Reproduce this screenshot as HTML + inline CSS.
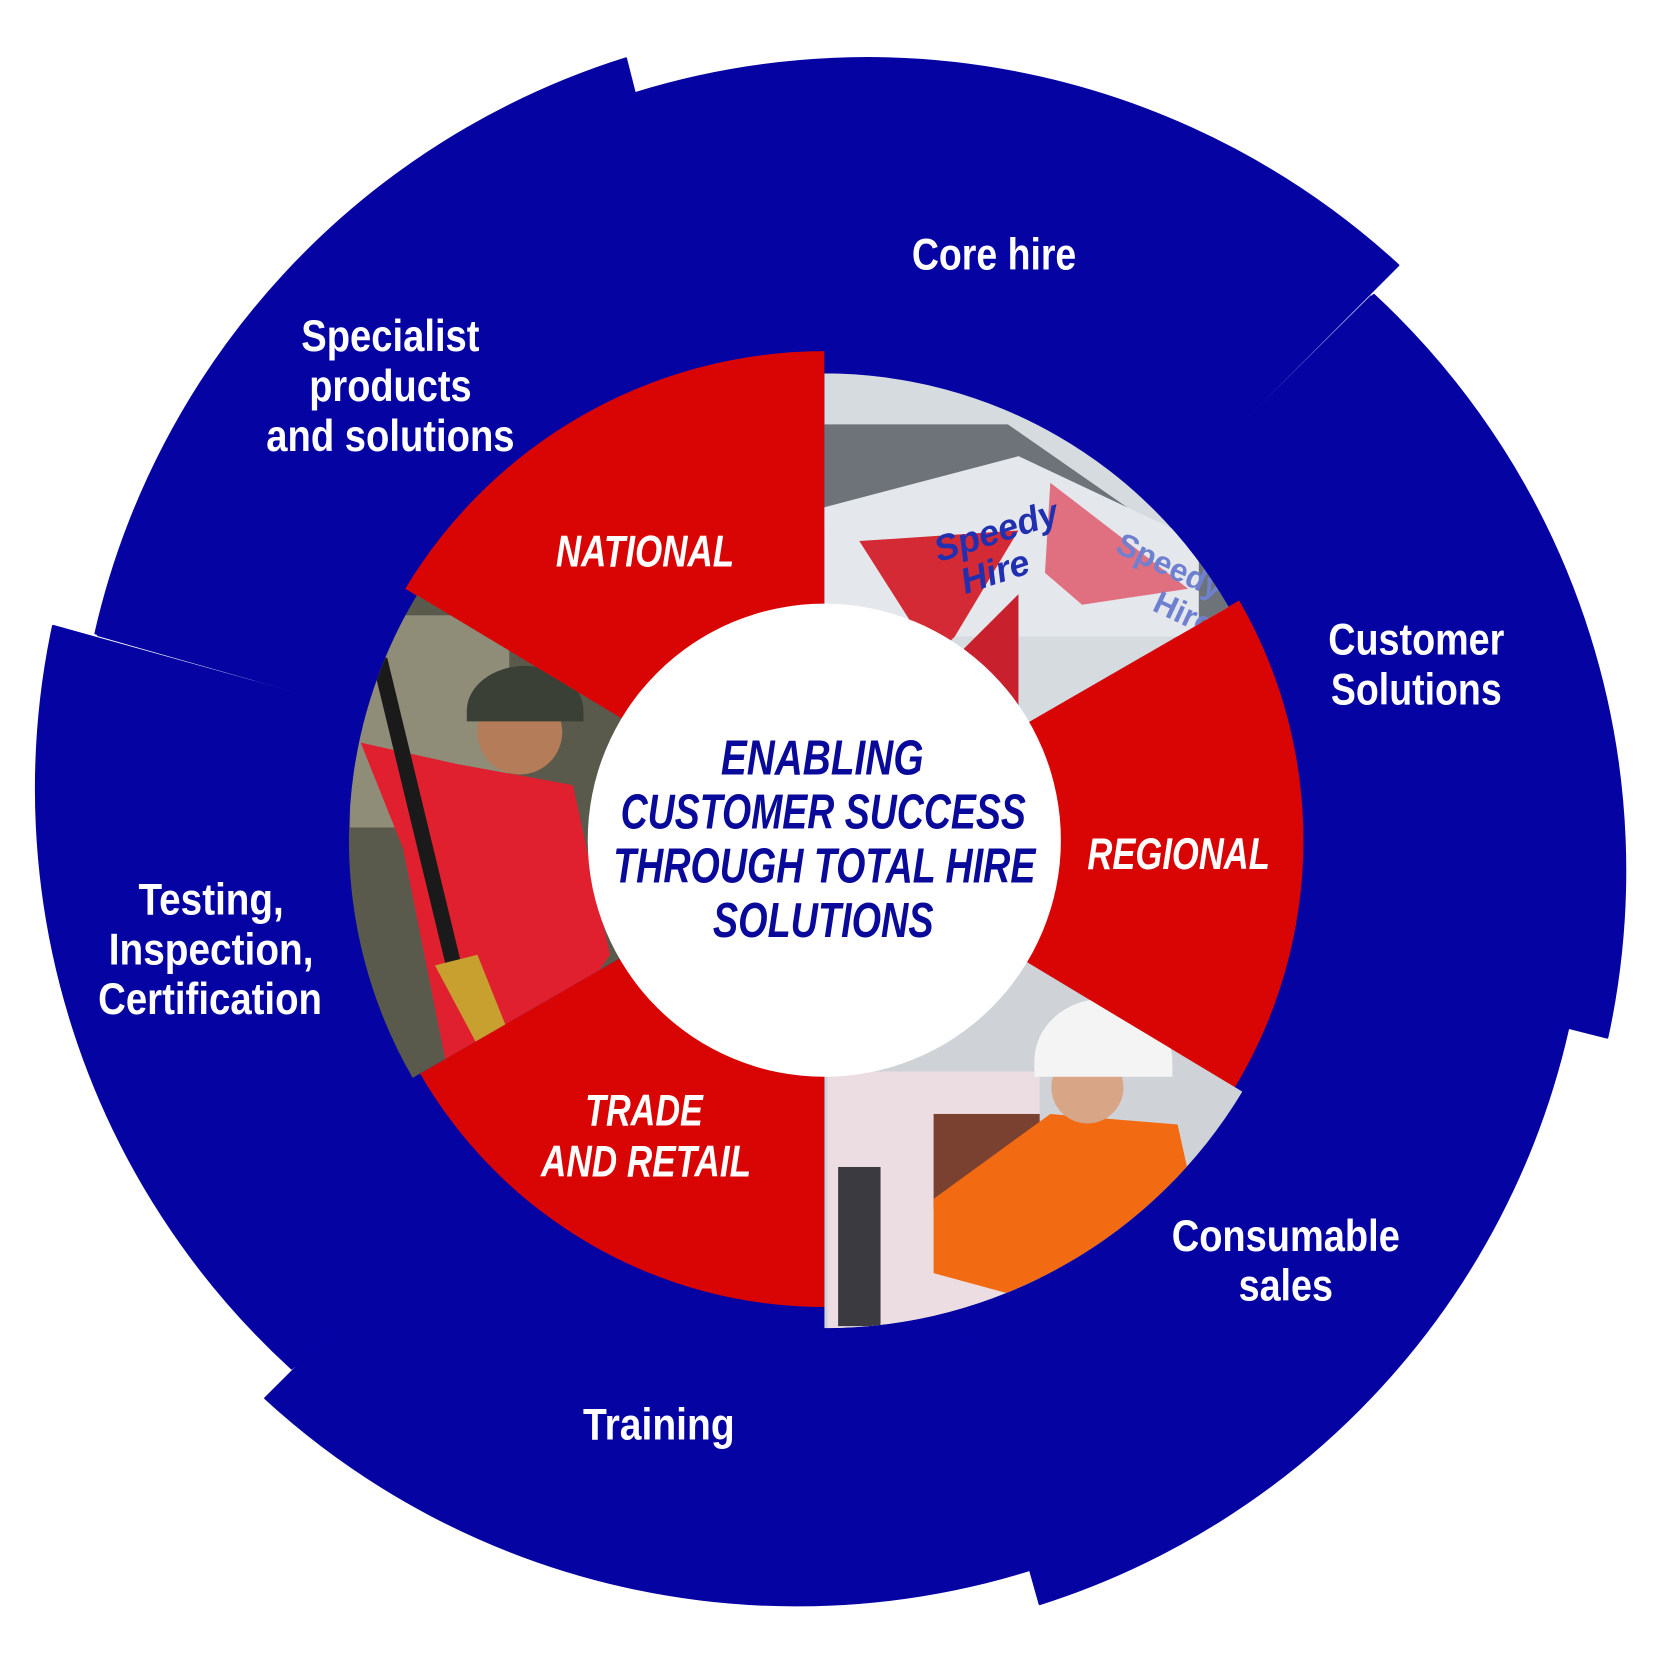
<!DOCTYPE html>
<html><head><meta charset="utf-8">
<style>
html,body{margin:0;padding:0;background:#fff;width:1655px;height:1655px;overflow:hidden}
svg{display:block}
.w{fill:#fff;font-family:"Liberation Sans Narrow","Liberation Sans",sans-serif;font-weight:bold;font-size:42px;text-anchor:middle}
.r{fill:#fff;font-family:"Liberation Sans Narrow","Liberation Sans",sans-serif;font-weight:bold;font-style:italic;font-size:42px;text-anchor:middle}
.c{fill:#0a0a9a;font-family:"Liberation Sans Narrow","Liberation Sans",sans-serif;font-weight:bold;font-style:italic;font-size:46px;text-anchor:middle}
</style></head><body>
<svg width="1655" height="1655" viewBox="0 0 1560 1560" xmlns="http://www.w3.org/2000/svg">
<defs>
<clipPath id="pTR"><path d="M777 792 L777 352 A440 440 0 0 1 1158 572 Z"/></clipPath>
<clipPath id="pB"><path d="M777 792 L1171 1029 A460 460 0 0 1 777 1252 Z"/></clipPath>
<clipPath id="pL"><path d="M777 792 L389 1016 A448 448 0 0 1 393 561 Z"/></clipPath>
</defs>
<g fill="#0603a3" stroke="#0603a3" stroke-width="2" stroke-linejoin="round">
<path d="M777 792 L90 597 A740 740 0 0 1 590 55 Z"/>
<path d="M777 792 L598 88 A740 740 0 0 1 1318 250 Z"/>
<path d="M777 792 L1295 278 A740 740 0 0 1 1515 978 Z"/>
<path d="M777 792 L1478 970 A740 740 0 0 1 980 1512 Z"/>
<path d="M777 792 L970 1480 A740 740 0 0 1 250 1318 Z"/>
<path d="M777 792 L275 1290 A740 740 0 0 1 50 590 Z"/>
</g>
<g stroke="#0603a3" stroke-width="5">
<line x1="777" y1="792" x2="92" y2="597"/>
<line x1="777" y1="792" x2="599" y2="91"/>
<line x1="777" y1="792" x2="1294" y2="280"/>
<line x1="777" y1="792" x2="1476" y2="970"/>
<line x1="777" y1="792" x2="969" y2="1478"/>
<line x1="777" y1="792" x2="277" y2="1288"/>
</g>
<g fill="#d90505">
<path d="M777 792 L382 555 A461 461 0 0 1 777 331 Z"/>
<path d="M777 792 L1168 566 A452 452 0 0 1 1164 1025 Z"/>
<path d="M777 792 L777 1232 A440 440 0 0 1 396 1012 Z"/>
</g>
<g clip-path="url(#pTR)">
<rect x="770" y="340" width="420" height="460" fill="#d6dbe0"/>
<polygon points="770,400 950,400 1180,560 1180,600 770,500" fill="#6d7378"/>
<polygon points="770,480 960,430 1130,510 1130,600 770,600" fill="#e4e8ec"/>
<polygon points="810,510 960,500 900,600 880,620" fill="#d42a35"/>
<polygon points="990,455 1120,555 1020,570 985,540" fill="#e07080"/>
<polygon points="900,620 960,560 960,700 920,700" fill="#c8202c"/>
<text x="885" y="530" font-family="Liberation Sans" font-weight="bold" font-style="italic" font-size="34" fill="#2030b0" transform="rotate(-18 885 530)">Speedy</text>
<text x="910" y="560" font-family="Liberation Sans" font-weight="bold" font-style="italic" font-size="34" fill="#2030b0" transform="rotate(-18 910 560)">Hire</text>
<text x="1050" y="520" font-family="Liberation Sans" font-weight="bold" font-size="30" fill="#7080d0" transform="rotate(25 1050 520)">Speedy</text>
<text x="1085" y="575" font-family="Liberation Sans" font-weight="bold" font-size="30" fill="#7080d0" transform="rotate(25 1085 575)">Hire</text>
</g>
<g clip-path="url(#pB)">
<rect x="770" y="900" width="420" height="360" fill="#cfd3d8"/>
<rect x="780" y="1010" width="200" height="250" fill="#ecdde2"/>
<rect x="790" y="1100" width="40" height="150" fill="#3a3a40"/>
<rect x="880" y="1050" width="100" height="90" fill="#7a4030"/>
<polygon points="880,1130 990,1050 1110,1060 1130,1150 990,1230 880,1200" fill="#f26a12"/>
<circle cx="1025" cy="1025" r="34" fill="#d9a587"/>
<path d="M975 1000 A50 45 0 0 1 1105 1000 L1105 1015 L975 1015 Z" fill="#f4f4f4"/>
</g>
<g clip-path="url(#pL)">
<rect x="320" y="550" width="270" height="480" fill="#5a5a4c"/>
<rect x="330" y="580" width="150" height="200" fill="#8f8c78"/>
<polygon points="340,700 430,720 540,740 575,900 520,980 420,1000 380,800" fill="#e0202f"/>
<circle cx="490" cy="690" r="40" fill="#b47c58"/>
<path d="M440 670 A52 40 0 0 1 550 670 L550 680 L440 680 Z" fill="#3a4035"/>
<polygon points="350,620 365,620 440,930 425,930" fill="#1a1a1a"/>
<polygon points="410,910 450,900 480,975 450,985" fill="#c8a030"/>
</g>
<circle cx="777" cy="792" r="223" fill="#fff"/>
<g>
<text class="w" x="937" y="254" textLength="155" lengthAdjust="spacingAndGlyphs">Core hire</text>
<text class="w" x="368" y="331" textLength="168" lengthAdjust="spacingAndGlyphs">Specialist</text>
<text class="w" x="368" y="378" textLength="153" lengthAdjust="spacingAndGlyphs">products</text>
<text class="w" x="368" y="425" textLength="234" lengthAdjust="spacingAndGlyphs">and solutions</text>
<text class="w" x="1335" y="617" textLength="166" lengthAdjust="spacingAndGlyphs">Customer</text>
<text class="w" x="1335" y="664" textLength="161" lengthAdjust="spacingAndGlyphs">Solutions</text>
<text class="w" x="199" y="862" textLength="137" lengthAdjust="spacingAndGlyphs">Testing,</text>
<text class="w" x="199" y="909" textLength="193" lengthAdjust="spacingAndGlyphs">Inspection,</text>
<text class="w" x="198" y="956" textLength="211" lengthAdjust="spacingAndGlyphs">Certification</text>
<text class="w" x="1212" y="1179" textLength="215" lengthAdjust="spacingAndGlyphs">Consumable</text>
<text class="w" x="1212" y="1226" textLength="89" lengthAdjust="spacingAndGlyphs">sales</text>
<text class="w" x="621" y="1357" textLength="143" lengthAdjust="spacingAndGlyphs">Training</text>
<text class="r" x="608" y="534" textLength="168" lengthAdjust="spacingAndGlyphs">NATIONAL</text>
<text class="r" x="1111" y="819" textLength="172" lengthAdjust="spacingAndGlyphs">REGIONAL</text>
<text class="r" x="607" y="1061" textLength="111" lengthAdjust="spacingAndGlyphs">TRADE</text>
<text class="r" x="609" y="1109" textLength="198" lengthAdjust="spacingAndGlyphs">AND RETAIL</text>
<text class="c" x="775" y="730" textLength="191" lengthAdjust="spacingAndGlyphs">ENABLING</text>
<text class="c" x="776" y="781" textLength="382" lengthAdjust="spacingAndGlyphs">CUSTOMER SUCCESS</text>
<text class="c" x="777" y="832" textLength="398" lengthAdjust="spacingAndGlyphs">THROUGH TOTAL HIRE</text>
<text class="c" x="776" y="883" textLength="208" lengthAdjust="spacingAndGlyphs">SOLUTIONS</text>
</g>
</svg>
</body></html>
